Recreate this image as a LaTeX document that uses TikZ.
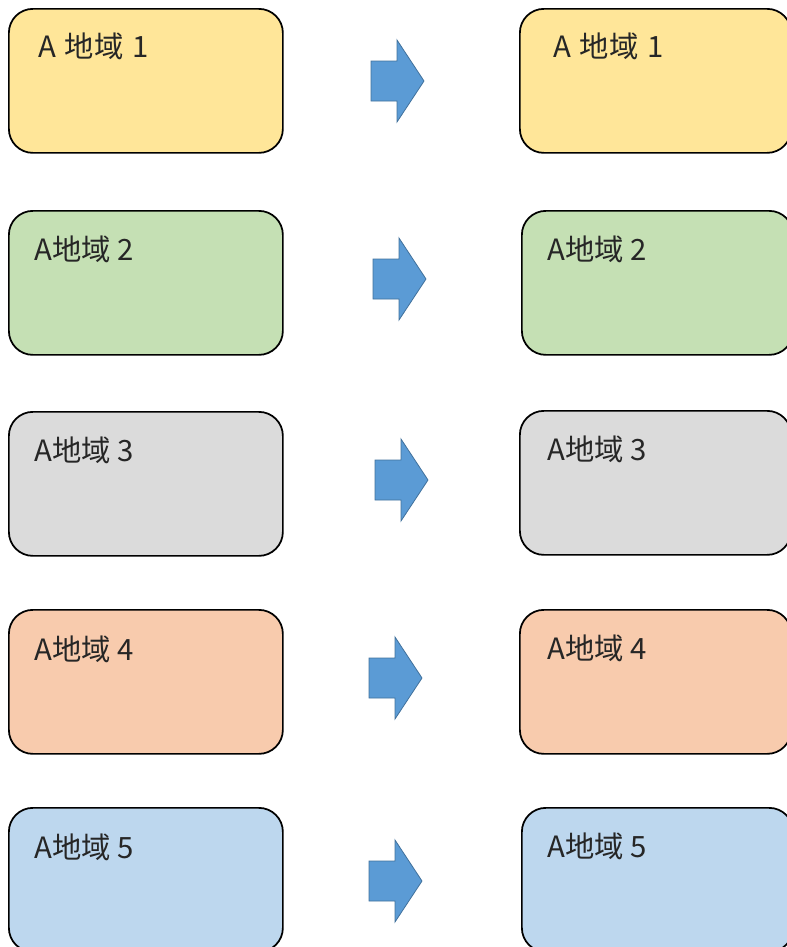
\documentclass[tikz,border=0pt]{standalone}
\usepackage{fontspec}
\setmainfont{Noto Sans CJK JP}
\definecolor{yel}{HTML}{FFE699}
\definecolor{grn}{HTML}{C5E0B4}
\definecolor{gry}{HTML}{DBDBDB}
\definecolor{org}{HTML}{F8CBAD}
\definecolor{blu}{HTML}{BDD7EE}
\definecolor{arrfill}{HTML}{5B9BD5}
\definecolor{arrline}{HTML}{41719C}
\tikzset{
  box/.style={draw=black, line width=1.3pt, rounded corners=18pt, rectangle, inner sep=0pt, anchor=north west, minimum height=108pt},
  lbox/.style={box, minimum width=205.5pt},
  rbox/.style={box, minimum width=203.5pt},
  lbl/.style={anchor=base west, inner sep=0pt, font=\fontsize{22pt}{26pt}\selectfont, text=black!85},
  bigarrow/.style={fill=arrfill, draw=arrline, line width=0.6pt}
}
\newcommand{\rightarr}[2]{%
  \path[bigarrow] (#1,#2-20) -- (#1+26,#2-20) -- (#1+26,#2-41) -- (#1+53,#2) -- (#1+26,#2+41) -- (#1+26,#2+20) -- (#1,#2+20) -- cycle;}
\begin{document}
\begin{tikzpicture}[x=0.75pt,y=-0.75pt]
\useasboundingbox (0,0) rectangle (787,947);
\clip (0,0) rectangle (787,947);
% row 1
\node[lbox, fill=yel] (L1) at (8,8) {};
\node[rbox, fill=yel] (R1) at (519,8) {};
\node[lbl] (L1t) at (38,57) {A\hspace{0.3em}地域\hspace{0.3em}1};
\node[lbl] (R1t) at (553,57) {A\hspace{0.3em}地域\hspace{0.3em}1};
\rightarr{371}{81}
% row 2
\node[lbox, fill=grn] (L2) at (8,210) {};
\node[rbox, fill=grn] (R2) at (521,210) {};
\node[lbl] (L2t) at (34,260) {A地域 2};
\node[lbl] (R2t) at (547,260) {A地域 2};
\rightarr{373}{279}
% row 3
\node[lbox, fill=gry] (L3) at (8,411) {};
\node[rbox, fill=gry] (R3) at (519,410) {};
\node[lbl] (L3t) at (34,461) {A地域 3};
\node[lbl] (R3t) at (547,460) {A地域 3};
\rightarr{375}{480}
% row 4
\node[lbox, fill=org] (L4) at (8,609) {};
\node[rbox, fill=org] (R4) at (519,609) {};
\node[lbl] (L4t) at (34,660) {A地域 4};
\node[lbl] (R4t) at (547,659) {A地域 4};
\rightarr{369}{678}
% row 5
\node[lbox, fill=blu] (L5) at (8,807) {};
\node[rbox, fill=blu] (R5) at (521,807) {};
\node[lbl] (L5t) at (34,858) {A地域 5};
\node[lbl] (R5t) at (547,857) {A地域 5};
\rightarr{369}{881}
\end{tikzpicture}
\end{document}
